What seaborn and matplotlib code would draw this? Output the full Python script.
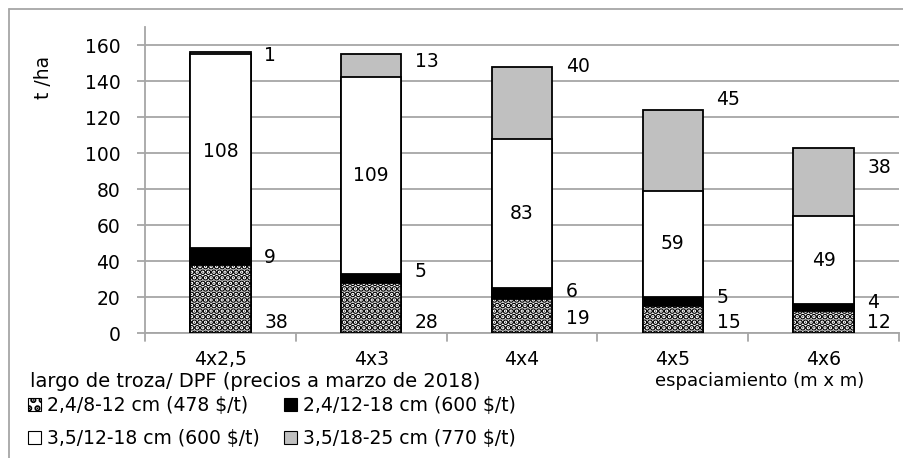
import matplotlib
matplotlib.use("Agg")
import numpy as np
import pandas as pd
import matplotlib.pyplot as plt
import seaborn as sns
from matplotlib.patches import Patch
from matplotlib.lines import Line2D

# Volumen por clase de troza (t/ha) según espaciamiento
espaciamiento = ["4x2,5", "4x3", "4x4", "4x5", "4x6"]
d24_8_12 = [38, 28, 19, 15, 12]
d24_12_18 = [9, 5, 6, 5, 4]
d35_12_18 = [108, 109, 83, 59, 49]
d35_18_25 = [1, 13, 40, 45, 38]

series_names = [
    "2,4/8-12 cm (478 $/t)",
    "2,4/12-18 cm (600 $/t)",
    "3,5/12-18 cm (600 $/t)",
    "3,5/18-25 cm (770 $/t)",
]
y_ticks = [0, 20, 40, 60, 80, 100, 120, 140, 160]

# label heights (data units) for the outside labels
lbl_y_dots = [6, 6, 8, 6, 6]
lbl_y_black = [42, 34, 23, 20, 17]
lbl_y_gray = [154, 151, 148, 130, 92]

sns.set_theme(style="white")
plt.rcParams["font.family"] = ["DejaVu Sans"]
plt.rcParams["text.color"] = "black"
plt.rcParams["xtick.labelcolor"] = "black"
plt.rcParams["ytick.labelcolor"] = "black"
plt.rcParams["hatch.linewidth"] = 3.2
FS = 13.5

fig = plt.figure(figsize=(9.04, 4.58), dpi=100)
ax = fig.add_axes([0.1604, 0.2729, 0.8341, 0.6681])

series = [d24_8_12, d24_12_18, d35_12_18, d35_18_25]
colors = ["white", "black", "white", "#c0c0c0"]
hatches = ["...", None, None, None]

df = pd.DataFrame({"esp": espaciamiento})
cum = np.cumsum(np.array(series), axis=0)
# draw cumulative totals from top series down so each layer shows its own band
for i in range(len(series) - 1, -1, -1):
    df["tot"] = cum[i]
    sns.barplot(data=df, x="esp", y="tot", color=colors[i], width=0.4,
                edgecolor="black", linewidth=1.3, saturation=1, ax=ax,
                zorder=3 + (len(series) - i))
    if hatches[i]:
        for p in ax.patches[-len(espaciamiento):]:
            p.set_hatch(hatches[i])

ax.set_ylim(0, 170)
ax.set_xlim(-0.5, 4.5)
ax.set_yticks(y_ticks)
ax.set_yticklabels([str(t) for t in y_ticks], fontsize=FS)
ax.set_xticks(range(5))
ax.set_xticklabels(espaciamiento, fontsize=FS)
ax.set_xlabel("")
ax.set_ylabel("")

ax.yaxis.grid(True, color="#a6a6a6", linewidth=1.3, zorder=0)
ax.set_axisbelow(True)
for s in ["top", "right"]:
    ax.spines[s].set_visible(False)
for s in ["left", "bottom"]:
    ax.spines[s].set_color("#a6a6a6")
    ax.spines[s].set_linewidth(1.3)
ax.tick_params(axis="y", length=5.8, width=1.3, color="#a6a6a6", direction="out",
               left=True, pad=12, labelcolor="black")
ax.tick_params(axis="x", length=0, pad=12, labelcolor="black")
# category separator ticks on the x axis
for b in np.arange(-0.5, 5.0, 1.0):
    ax.plot([b, b], [0, -4.5], color="#a6a6a6", lw=1.3, clip_on=False, zorder=2)

# value labels
xr = 0.29
for k in range(5):
    ax.text(k + xr, lbl_y_dots[k], str(d24_8_12[k]), ha="left", va="center", fontsize=FS, zorder=10)
    ax.text(k + xr, lbl_y_black[k], str(d24_12_18[k]), ha="left", va="center", fontsize=FS, zorder=10)
    ax.text(k, cum[1][k] + d35_12_18[k] / 2, str(d35_12_18[k]), ha="center", va="center",
            fontsize=FS, zorder=10)
    ax.text(k + xr, lbl_y_gray[k], str(d35_18_25[k]), ha="left", va="center", fontsize=FS, zorder=10)

fig.text(0.048, 0.83, "t /ha", rotation=90, ha="center", va="center", fontsize=FS)
fig.text(0.84, 0.168, "espaciamiento (m x m)", ha="center", va="center", fontsize=FS - 0.5)
fig.text(0.033, 0.166, "largo de troza/ DPF (precios a marzo de 2018)", ha="left", va="center",
         fontsize=FS + 0.5)

handles = [
    Patch(facecolor="white", edgecolor="black", hatch="..", lw=0.8),
    Patch(facecolor="black", edgecolor="black", lw=0.8),
    Patch(facecolor="white", edgecolor="black", lw=0.8),
    Patch(facecolor="#c0c0c0", edgecolor="black", lw=0.8),
]
order = [0, 2, 1, 3]
leg = fig.legend([handles[i] for i in order], [series_names[i] for i in order], ncol=2,
                 loc="upper left", bbox_to_anchor=(0.031, 0.135), frameon=False, fontsize=FS,
                 handlelength=0.7, handleheight=0.7, handletextpad=0.3,
                 columnspacing=1.3, labelspacing=0.75, borderpad=0, borderaxespad=0)

# chart border (left and top edges)
fig.add_artist(Line2D([0.0105, 0.0105], [0.0, 0.98], transform=fig.transFigure,
                      color="#a6a6a6", lw=1.3))
fig.add_artist(Line2D([0.0105, 1.0], [0.98, 0.98], transform=fig.transFigure,
                      color="#a6a6a6", lw=1.3))

fig.savefig("out.png", dpi=100)
